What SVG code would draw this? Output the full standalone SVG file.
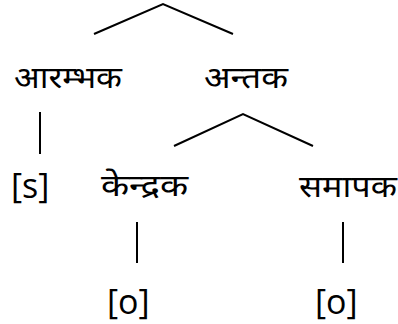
<svg xmlns="http://www.w3.org/2000/svg" width="398" height="324" viewBox="0 0 398 324">
<style>
.e{stroke:#000;stroke-width:2;fill:none}
.d{font-family:"Noto Sans","Noto Sans CJK SC",sans-serif;font-size:30px;fill:#000}
.l{font-family:"Open Sans","Liberation Sans",sans-serif;font-size:34px;fill:#000}
</style>
<rect width="398" height="324" fill="#fff"/>
<g id="connectors">
<polyline class="e" points="94,34 163,4 233,34"/>
<line class="e" x1="40" y1="112" x2="40" y2="154"/>
<polyline class="e" points="174,146 243,114 313,146"/>
<line class="e" x1="137" y1="222" x2="137" y2="263"/>
<line class="e" x1="343" y1="222" x2="343" y2="263"/>
</g>
<g id="n-arambhak"><text class="d" x="14" y="88" textLength="108" lengthAdjust="spacingAndGlyphs">आरम्भक</text></g>
<g id="n-antak"><text class="d" x="204" y="88" textLength="84" lengthAdjust="spacingAndGlyphs">अन्तक</text></g>
<g id="n-s"><text class="l" x="11" y="198">[s]</text></g>
<g id="n-kendrak"><text class="d" x="101" y="196" textLength="87" lengthAdjust="spacingAndGlyphs">केन्द्रक</text></g>
<g id="n-samapak"><text class="d" x="299" y="197" textLength="98" lengthAdjust="spacingAndGlyphs">समापक</text></g>
<g id="n-o1"><text class="l" x="107" y="314">[o]</text></g>
<g id="n-o2"><text class="l" x="315" y="314">[o]</text></g>
</svg>
